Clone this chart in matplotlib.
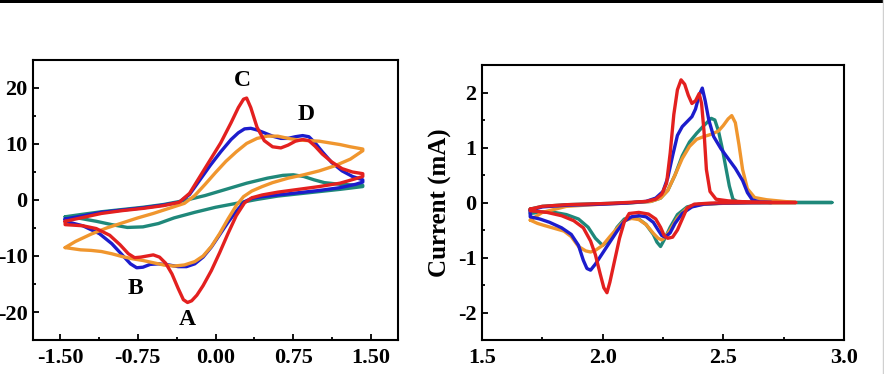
#!/usr/bin/env python3
"""Cyclic voltammograms, two panels."""

import matplotlib

matplotlib.use("Agg")
import matplotlib.pyplot as plt
from matplotlib.lines import Line2D
from matplotlib.patches import Rectangle
from matplotlib.ticker import MultipleLocator

plt.rcParams["font.family"] = ["Liberation Serif", "DejaVu Serif"]
plt.rcParams["font.weight"] = "bold"

# ---- left panel: closed CV loops (upper branch then lower branch) ----
red_l_x = [-1.45, -1.3, -1.1, -0.9, -0.7, -0.5, -0.35, -0.25, -0.15, -0.05, 0.05, 0.15,
           0.22, 0.27, 0.30, 0.34, 0.40, 0.47, 0.55, 0.63, 0.70, 0.77, 0.84, 0.90, 0.96,
           1.03, 1.12, 1.22, 1.32, 1.42,
           1.42, 1.35, 1.2, 1.0, 0.8, 0.6, 0.45, 0.35, 0.28, 0.20, 0.12, 0.04, -0.04,
           -0.12, -0.18, -0.23, -0.27, -0.31, -0.36, -0.42, -0.48, -0.54, -0.60, -0.66,
           -0.72, -0.78, -0.84, -0.92, -1.02, -1.15, -1.28, -1.45, -1.45]
red_l_y = [-3.8, -3.2, -2.4, -1.9, -1.5, -1.0, -0.4, 1.2, 4.2, 7.2, 10.2, 13.8,
           16.5, 18.0, 18.2, 16.5, 13.0, 10.6, 9.5, 9.3, 9.8, 10.5, 10.8, 10.6, 9.6,
           8.2, 6.8, 5.6, 5.0, 4.7,
           4.2, 3.8, 3.0, 2.4, 1.9, 1.4, 0.9, 0.4, -0.5, -2.8, -6.0, -9.4, -12.6,
           -15.3, -17.0, -18.0, -18.3, -17.8, -15.8, -13.2, -11.3, -10.2, -9.8, -10.0,
           -10.2, -10.3, -9.6, -8.0, -6.3, -5.1, -4.6, -4.4, -3.8]

blue_l_x = [-1.45, -1.3, -1.1, -0.9, -0.7, -0.5, -0.35, -0.25, -0.15, -0.05, 0.05, 0.15,
            0.22, 0.28, 0.34, 0.40, 0.47, 0.55, 0.63, 0.70, 0.77, 0.84, 0.90, 0.96,
            1.03, 1.12, 1.22, 1.32, 1.42,
            1.42, 1.35, 1.2, 1.0, 0.8, 0.6, 0.45, 0.35, 0.28, 0.20, 0.12, 0.04, -0.04,
            -0.12, -0.20, -0.28, -0.36, -0.45, -0.55, -0.63, -0.70, -0.76, -0.82, -0.90,
            -1.00, -1.12, -1.28, -1.45, -1.45]
blue_l_y = [-3.4, -2.9, -2.2, -1.8, -1.4, -0.9, -0.4, 1.0, 3.6, 6.2, 8.6, 10.8,
            12.0, 12.7, 12.8, 12.5, 12.0, 11.4, 11.0, 11.0, 11.3, 11.5, 11.3, 10.2,
            8.6, 6.7, 5.2, 4.2, 3.6,
            3.2, 2.8, 2.2, 1.7, 1.3, 0.9, 0.6, 0.3, -0.3, -2.0, -4.0, -6.2, -8.4,
            -10.2, -11.4, -11.9, -11.9, -11.6, -11.4, -11.5, -12.0, -12.1, -11.4, -9.8,
            -7.8, -6.0, -4.6, -3.8, -3.4]

orange_l_x = [-1.45, -1.35, -1.2, -1.05, -0.9, -0.75, -0.6, -0.45, -0.3, -0.2, -0.1, 0.0,
              0.1, 0.2, 0.3, 0.4, 0.5, 0.6, 0.7, 0.8, 0.9, 1.0, 1.1, 1.2, 1.3, 1.42,
              1.42, 1.3, 1.15, 1.0, 0.85, 0.7, 0.55, 0.45, 0.35, 0.27, 0.2, 0.12, 0.04,
              -0.04, -0.12, -0.2, -0.3, -0.4, -0.5, -0.6, -0.7, -0.8, -0.9, -1.0, -1.1,
              -1.2, -1.3, -1.45]
orange_l_y = [-8.5, -7.4, -6.1, -5.0, -4.1, -3.2, -2.4, -1.5, -0.6, 0.8, 2.8, 4.9,
              6.9, 8.6, 10.1, 11.0, 11.4, 11.4, 11.0, 10.7, 10.6, 10.5, 10.2, 9.9, 9.5, 9.1,
              8.8, 7.3, 6.1, 5.2, 4.5, 3.9, 3.1, 2.4, 1.6, 0.6, -1.0, -3.4, -6.0,
              -8.3, -10.0, -11.0, -11.6, -11.8, -11.6, -11.2, -10.8, -10.5, -10.1, -9.6, -9.2,
              -9.0, -8.9, -8.5]

teal_l_x = [-1.45, -1.3, -1.1, -0.9, -0.7, -0.5, -0.3, -0.1, 0.1, 0.3, 0.5, 0.65, 0.75,
            0.85, 0.95, 1.05, 1.2, 1.42,
            1.42, 1.2, 1.0, 0.8, 0.6, 0.4, 0.2, 0.0, -0.2, -0.4, -0.55, -0.7, -0.85,
            -1.0, -1.15, -1.3, -1.45, -1.45]
teal_l_y = [-3.0, -2.6, -2.1, -1.7, -1.3, -0.8, -0.1, 0.8, 1.9, 3.0, 3.9, 4.4, 4.5,
            4.2, 3.6, 3.1, 2.8, 2.6,
            2.4, 1.9, 1.5, 1.1, 0.7, 0.1, -0.6, -1.3, -2.2, -3.2, -4.2, -4.8, -4.9,
            -4.4, -3.8, -3.3, -3.0, -3.0]

peak_labels = ["A", "B", "C", "D"]
peak_x = [-0.27, -0.77, 0.26, 0.87]
peak_y = [-21.3, -15.8, 21.3, 15.2]

# ---- right panel ----
red_r_x = [1.70, 1.75, 1.85, 2.0, 2.1, 2.18, 2.22, 2.245, 2.265, 2.28, 2.295, 2.31, 2.325,
           2.34, 2.355, 2.37, 2.385, 2.40, 2.41, 2.42, 2.43, 2.445, 2.47, 2.52, 2.6, 2.7, 2.8,
           2.6, 2.45, 2.38, 2.35, 2.33, 2.31, 2.29, 2.27, 2.255, 2.24, 2.22, 2.19, 2.15,
           2.11, 2.09, 2.07, 2.05, 2.03, 2.018, 2.005, 1.99, 1.97, 1.95, 1.92, 1.88, 1.83,
           1.77, 1.70, 1.70]
red_r_y = [-0.12, -0.07, -0.04, -0.02, 0.0, 0.02, 0.06, 0.15, 0.35, 0.9, 1.6, 2.05, 2.23,
           2.15, 1.95, 1.8, 1.85, 1.98, 1.8, 1.3, 0.6, 0.2, 0.06, 0.03, 0.01, 0.0, 0.0,
           0.0, -0.01, -0.03, -0.1, -0.3, -0.5, -0.63, -0.65, -0.6, -0.45, -0.3, -0.21, -0.18,
           -0.2, -0.35, -0.65, -1.05, -1.45, -1.64, -1.55, -1.3, -0.95, -0.7, -0.46, -0.33, -0.24,
           -0.18, -0.15, -0.12]

blue_r_x = [1.70, 1.75, 1.85, 2.0, 2.1, 2.18, 2.22, 2.25, 2.27, 2.29, 2.31, 2.33, 2.35, 2.37,
            2.385, 2.40, 2.413, 2.425, 2.44, 2.46, 2.49, 2.52, 2.55, 2.58, 2.60, 2.62, 2.65, 2.7,
            2.5, 2.42, 2.37, 2.33, 2.3, 2.28, 2.26, 2.245, 2.23, 2.21, 2.18, 2.15, 2.12, 2.09,
            2.06, 2.03, 2.0, 1.97, 1.95, 1.935, 1.92, 1.9, 1.87, 1.83, 1.78, 1.74, 1.70, 1.70]
blue_r_y = [-0.14, -0.08, -0.05, -0.03, -0.01, 0.02, 0.08, 0.2, 0.45, 0.85, 1.22, 1.38, 1.47,
            1.56, 1.7, 1.95, 2.08, 1.85, 1.5, 1.2, 0.98, 0.8, 0.62, 0.4, 0.18, 0.05, 0.01, 0.0,
            -0.01, -0.03, -0.08, -0.2, -0.38, -0.55, -0.63, -0.6, -0.5, -0.36, -0.26, -0.24,
            -0.26, -0.34, -0.52, -0.72, -0.92, -1.12, -1.23, -1.2, -1.05, -0.78, -0.58, -0.46,
            -0.36, -0.3, -0.26, -0.14]

teal_r_x = [1.70, 1.75, 1.85, 2.0, 2.1, 2.2, 2.24, 2.27, 2.3, 2.33, 2.36, 2.39, 2.42, 2.45,
            2.465, 2.48, 2.495, 2.51, 2.525, 2.54, 2.56, 2.65, 2.8, 2.95,
            2.6, 2.4, 2.35, 2.31, 2.28, 2.255, 2.24, 2.225, 2.21, 2.18, 2.15, 2.12, 2.09,
            2.06, 2.035, 2.0, 1.97, 1.94, 1.9, 1.85, 1.8, 1.75, 1.70, 1.70]
teal_r_y = [-0.12, -0.07, -0.04, -0.02, -0.01, 0.02, 0.08, 0.22, 0.5, 0.85, 1.1, 1.26, 1.4,
            1.53, 1.5, 1.3, 1.0, 0.65, 0.3, 0.06, 0.01, 0.0, 0.0, 0.0,
            0.0, -0.03, -0.08, -0.22, -0.45, -0.68, -0.8, -0.72, -0.58, -0.4, -0.3, -0.27,
            -0.3, -0.45, -0.65, -0.78, -0.65, -0.45, -0.3, -0.22, -0.18, -0.17, -0.2, -0.12]

orange_r_x = [1.70, 1.75, 1.85, 2.0, 2.1, 2.2, 2.24, 2.27, 2.3, 2.33, 2.36, 2.39, 2.42, 2.45,
              2.48, 2.5, 2.52, 2.535, 2.55, 2.565, 2.58, 2.6, 2.63, 2.68, 2.75, 2.8,
              2.5, 2.4, 2.35, 2.31, 2.28, 2.26, 2.245, 2.23, 2.21, 2.18, 2.15, 2.12, 2.09,
              2.06, 2.03, 2.0, 1.97, 1.95, 1.93, 1.9, 1.87, 1.84, 1.8, 1.76, 1.73, 1.70]
orange_r_y = [-0.32, -0.18, -0.07, -0.03, -0.01, 0.02, 0.08, 0.22, 0.5, 0.8, 1.02, 1.15,
              1.2, 1.24, 1.3, 1.4, 1.52, 1.58, 1.45, 1.05, 0.6, 0.25, 0.09, 0.05, 0.02, 0.0,
              -0.01, -0.04, -0.1, -0.28, -0.5, -0.63, -0.68, -0.65, -0.56, -0.4, -0.31,
              -0.29, -0.33, -0.47, -0.62, -0.78, -0.87, -0.9, -0.88, -0.8, -0.62, -0.52,
              -0.47, -0.42, -0.38, -0.32]

c_red = "#e3201f"
c_blue = "#1c1ccc"
c_orange = "#f0962e"
c_teal = "#1f887a"
lw = 2.4

fig = plt.figure(figsize=(8.84, 3.74), dpi=100)
ax1 = fig.add_axes([0.0373, 0.0909, 0.4130, 0.7487])
ax2 = fig.add_axes([0.5452, 0.0909, 0.4095, 0.7353])

kw = dict(lw=lw, solid_joinstyle="round", solid_capstyle="round")
ax1.plot(teal_l_x, teal_l_y, color=c_teal, zorder=2, **kw)
ax1.plot(blue_l_x, blue_l_y, color=c_blue, zorder=3, **kw)
ax1.plot(orange_l_x, orange_l_y, color=c_orange, zorder=4, **kw)
ax1.plot(red_l_x, red_l_y, color=c_red, zorder=5, **kw)
for lab, px, py in zip(peak_labels, peak_x, peak_y):
    ax1.text(px, py, lab, fontsize=17, fontweight="bold", ha="center", va="center")

ax2.plot(teal_r_x, teal_r_y, color=c_teal, zorder=2, **kw)
ax2.plot(orange_r_x, orange_r_y, color=c_orange, zorder=3, **kw)
ax2.plot(blue_r_x, blue_r_y, color=c_blue, zorder=4, **kw)
ax2.plot(red_r_x, red_r_y, color=c_red, zorder=5, **kw)

ax1.set_xlim(-1.76, 1.76)
ax1.set_ylim(-25, 25)
ax1.xaxis.set_major_locator(MultipleLocator(0.75))
ax1.xaxis.set_minor_locator(MultipleLocator(0.375))
ax1.yaxis.set_major_locator(MultipleLocator(10))
ax1.yaxis.set_minor_locator(MultipleLocator(5))
ax1.xaxis.set_major_formatter(lambda v, p: f"{v:.2f}")
ax1.yaxis.set_major_formatter(lambda v, p: f"{v:.0f}")

ax2.set_xlim(1.5, 3.0)
ax2.set_ylim(-2.5, 2.5)
ax2.xaxis.set_major_locator(MultipleLocator(0.5))
ax2.xaxis.set_minor_locator(MultipleLocator(0.25))
ax2.yaxis.set_major_locator(MultipleLocator(1))
ax2.yaxis.set_minor_locator(MultipleLocator(0.5))
ax2.xaxis.set_major_formatter(lambda v, p: f"{v:.1f}")
ax2.yaxis.set_major_formatter(lambda v, p: f"{v:.0f}")
ax2.set_ylabel("Current (mA)", fontsize=18, fontweight="bold", labelpad=4)

for ax in (ax1, ax2):
    for s in ax.spines.values():
        s.set_linewidth(1.5)
    ax.tick_params(which="both", direction="in", top=False, right=False,
                   labelsize=16, width=1.3)
    ax.tick_params(axis="x", which="major", length=4, pad=6)
    ax.tick_params(axis="y", which="major", length=4, pad=4)
    ax.tick_params(which="minor", length=2.5)
    for t in ax.get_xticklabels() + ax.get_yticklabels():
        t.set_fontweight("bold")

# scan border remnants
fig.add_artist(Rectangle((0, 1 - 3 / 374), 1, 3 / 374, transform=fig.transFigure,
                         color="black", lw=0))
fig.add_artist(Line2D([883 / 884, 883 / 884], [0, 1], transform=fig.transFigure,
                      color="#d0d0d0", lw=1))

fig.savefig("out.png", dpi=100)
